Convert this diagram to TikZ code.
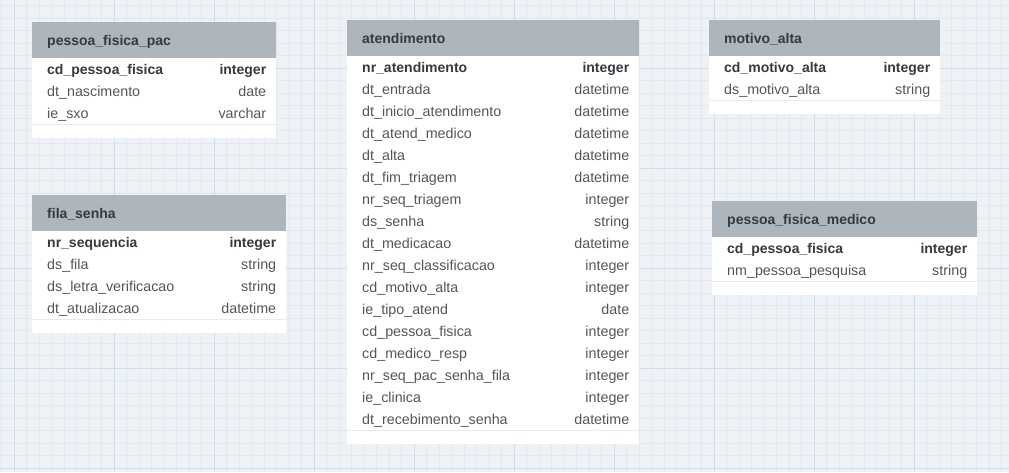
\documentclass[tikz,border=0pt]{standalone}
\usepackage{fontspec}
\setmainfont{Liberation Sans}
\usetikzlibrary{positioning}
\definecolor{gridbg}{RGB}{239,242,245}
\definecolor{gridminor}{RGB}{224,232,246}
\definecolor{gridmajor}{RGB}{204,219,246}
\definecolor{headgray}{RGB}{173,181,189}
\definecolor{headtext}{RGB}{52,58,64}
\definecolor{rowtext}{RGB}{85,85,85}
\definecolor{rowline}{RGB}{232,235,238}

% one table: id, x, y, width, title, number of rows, rows (name/type)
\newcommand{\ertable}[7]{%
  \node[headbox, minimum width=#4pt] (#1-head) at (#2,#3) {};
  \node[titletext, anchor=base west] (#1-title) at ([xshift=15pt, yshift=-5pt]#1-head.west) {#5};
  \foreach \col/\typ [count=\i] in {#7} {
    \node[rowbox, minimum width=#4pt] (#1-row\i) at (#2,{#3+36+(\i-1)*22}) {};
    \draw[rowsep] (#1-row\i.south west) -- (#1-row\i.south east);
    \node[coltext, anchor=base west] (#1-name\i) at ([xshift=15pt, yshift=-5pt]#1-row\i.west)
      {\ifnum\i=1 \bfseries\fontsize{14}{16}\selectfont\color{headtext}\fi\col};
    \node[coltext, anchor=base east] (#1-type\i) at ([xshift=-10pt, yshift=-5pt]#1-row\i.east)
      {\ifnum\i=1 \bfseries\fontsize{14}{16}\selectfont\color{headtext}\fi\typ};
  }
  \node[footbox, minimum width=#4pt] (#1-foot) at (#2,{#3+36+#6*22+1}) {};
}

\begin{document}
\begin{tikzpicture}[
  x=1pt, y=-1pt,
  headbox/.style={rectangle, fill=headgray, minimum height=36pt, inner sep=0pt, anchor=north west},
  rowbox/.style={rectangle, fill=white, minimum height=22pt, inner sep=0pt, anchor=north west},
  footbox/.style={rectangle, fill=white, minimum height=13pt, inner sep=0pt, anchor=north west},
  rowsep/.style={draw=rowline, line width=1.6pt},
  titletext/.style={inner sep=0pt, font=\bfseries\fontsize{14}{16}\selectfont, text=headtext},
  coltext/.style={inner sep=0pt, font=\fontsize{14.3}{16}\selectfont, text=rowtext}
]
  \useasboundingbox (0,0) rectangle (1009,472);
  \fill[gridbg] (0,0) rectangle (1009,472);
  % grid
  \foreach \gx in {0,...,80}
    \draw[gridminor, line width=0.9pt] ({1.8+12.5*\gx},0) -- ({1.8+12.5*\gx},472);
  \foreach \gy in {0,...,37}
    \draw[gridminor, line width=0.9pt] (0,{5.8+12.5*\gy}) -- (1009,{5.8+12.5*\gy});
  \foreach \gx in {0,...,9}
    \draw[gridmajor, line width=1pt] ({14.3+100*\gx},0) -- ({14.3+100*\gx},472);
  \foreach \gy in {0,...,4}
    \draw[gridmajor, line width=1pt] (0,{68.3+100*\gy}) -- (1009,{68.3+100*\gy});

  \ertable{pfpac}{32}{22}{244}{pessoa\_fisica\_pac}{3}{
    cd\_pessoa\_fisica/integer,
    dt\_nascimento/date,
    ie\_sxo/varchar}

  \ertable{fila}{32}{195}{254}{fila\_senha}{4}{
    nr\_sequencia/integer,
    ds\_fila/string,
    ds\_letra\_verificacao/string,
    dt\_atualizacao/datetime}

  \ertable{atend}{347}{20}{292}{atendimento}{17}{
    nr\_atendimento/integer,
    dt\_entrada/datetime,
    dt\_inicio\_atendimento/datetime,
    dt\_atend\_medico/datetime,
    dt\_alta/datetime,
    dt\_fim\_triagem/datetime,
    nr\_seq\_triagem/integer,
    ds\_senha/string,
    dt\_medicacao/datetime,
    nr\_seq\_classificacao/integer,
    cd\_motivo\_alta/integer,
    ie\_tipo\_atend/date,
    cd\_pessoa\_fisica/integer,
    cd\_medico\_resp/integer,
    nr\_seq\_pac\_senha\_fila/integer,
    ie\_clinica/integer,
    dt\_recebimento\_senha/datetime}

  \ertable{motivo}{709}{20}{231}{motivo\_alta}{2}{
    cd\_motivo\_alta/integer,
    ds\_motivo\_alta/string}

  \ertable{pfmed}{712}{201}{265}{pessoa\_fisica\_medico}{2}{
    cd\_pessoa\_fisica/integer,
    nm\_pessoa\_pesquisa/string}
\end{tikzpicture}
\end{document}
